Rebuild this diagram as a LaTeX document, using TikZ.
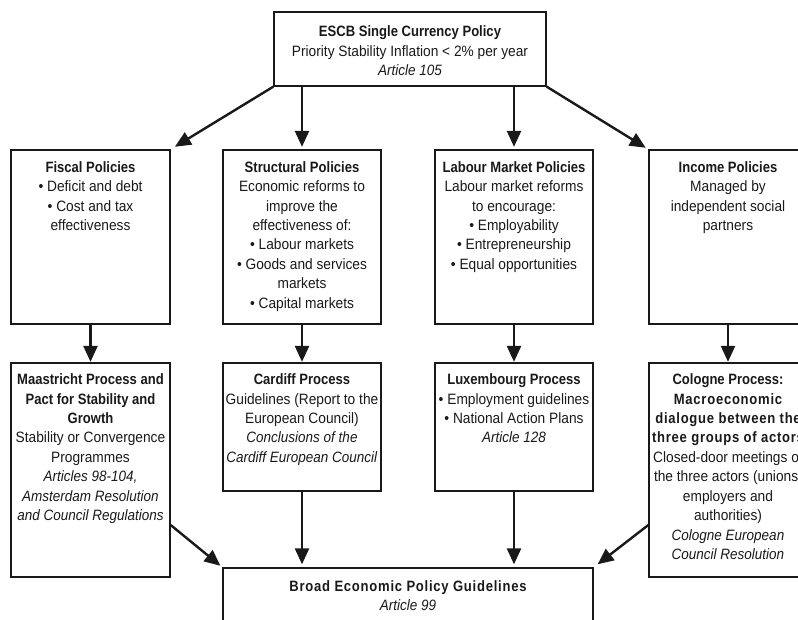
\documentclass[tikz,border=0pt]{standalone}
\usepackage{fontspec}
\setmainfont{Liberation Sans}[FakeStretch=0.915, BoldFeatures={FakeStretch=0.87}, ItalicFeatures={FakeStretch=0.9}]
\usetikzlibrary{arrows.meta,calc}
\newcommand{\trk}{\addfontfeature{LetterSpace=5}}
\begin{document}
\begin{tikzpicture}[x=1pt,y=-1pt,
  box/.style={draw=black!90, line width=1.3pt, inner sep=0pt, rectangle, minimum width=158pt},
  txt/.style={anchor=north, align=center, inner sep=0pt, font=\fontsize{15}{19.45}\selectfont, text=black!90},
  arr/.style={line width=2.4pt, draw=black!90, -{Triangle[length=16pt,width=14pt]}}]
\useasboundingbox (0,0) rectangle (798,620);
\clip (0,0) rectangle (798,620);
% boxes
\node[box, minimum width=272pt, minimum height=74pt] (top) at (410,49) {};
\node[box, minimum width=159pt, minimum height=174pt] (fis) at (90.5,237) {};
\node[box, minimum height=174pt] (str) at (302,237) {};
\node[box, minimum height=174pt] (lab) at (514,237) {};
\node[box, minimum height=174pt] (inc) at (728,237) {};
\node[box, minimum width=159pt, minimum height=214pt] (maa) at (90.5,470) {};
\node[box, minimum height=128pt] (car) at (302,427) {};
\node[box, minimum height=128pt] (lux) at (514,427) {};
\node[box, minimum height=214pt] (col) at (728,470) {};
\node[box, minimum width=370pt, minimum height=82pt] (bot) at (408,609) {};
% texts
\node[txt] (ttop) at ($(top.north)+(0,14.5)$) {\textbf{ESCB Single Currency Policy}\\Priority Stability Inflation < 2\% per year\\\textit{Article 105}};
\node[txt] (tfis) at ($(fis.north)+(0,11.7)$) {\textbf{Fiscal Policies}\\• Deficit and debt\\• Cost and tax\\effectiveness};
\node[txt] (tstr) at ($(str.north)+(0,11.7)$) {\textbf{Structural Policies}\\Economic reforms to\\improve the\\effectiveness of:\\• Labour markets\\• Goods and services\\markets\\• Capital markets};
\node[txt] (tlab) at ($(lab.north)+(0,11.7)$) {\textbf{Labour Market Policies}\\Labour market reforms\\to encourage:\\• Employability\\• Entrepreneurship\\• Equal opportunities};
\node[txt] (tinc) at ($(inc.north)+(0,11.7)$) {\textbf{Income Policies}\\Managed by\\independent social\\partners};
\node[txt] (tmaa) at ($(maa.north)+(0,11.2)$) {\textbf{Maastricht Process and}\\\textbf{Pact for Stability and}\\\textbf{Growth}\\Stability or Convergence\\Programmes\\\textit{Articles 98-104,}\\\textit{Amsterdam Resolution}\\\textit{and Council Regulations}};
\node[txt] (tcar) at ($(car.north)+(0,11.2)$) {\textbf{Cardiff Process}\\Guidelines (Report to the\\European Council)\\\textit{Conclusions of the}\\\textit{Cardiff European Council}};
\node[txt] (tlux) at ($(lux.north)+(0,11.2)$) {\textbf{Luxembourg Process}\\• Employment guidelines\\• National Action Plans\\\textit{Article 128}};
\node[txt] (tcol) at ($(col.north)+(0,11.2)$) {\textbf{Cologne Process:}\\{\bfseries\trk Macroeconomic}\\{\bfseries\trk dialogue between the}\\{\bfseries\trk three groups of actors}\\Closed-door meetings of\\the three actors (unions,\\employers and\\authorities)\\\textit{Cologne European}\\\textit{Council Resolution}};
\node[txt] (tbot) at ($(bot.north)+(0,12.9)$) {{\bfseries\trk Broad Economic Policy Guidelines}\\\textit{Article 99}};
% arrows
\draw[arr, shorten >=5pt] (top.south west) -- (fis.north east);
\draw[arr, shorten >=2.5pt] (top.south -| str.north) -- (str.north);
\draw[arr, shorten >=2.5pt] (top.south -| lab.north) -- (lab.north);
\draw[arr, shorten >=3pt] (top.south east) -- (inc.north west);
\draw[arr, shorten >=0.5pt] (fis.south) -- (maa.north);
\draw[arr, shorten >=0.5pt] (str.south) -- (car.north);
\draw[arr, shorten >=0.5pt] (lab.south) -- (lux.north);
\draw[arr, shorten >=0.5pt] (inc.south) -- (col.north);
\draw[arr, shorten >=3pt] (car.south) -- (car.south |- bot.north);
\draw[arr, shorten >=3pt] (lux.south) -- (lux.south |- bot.north);
\coordinate (mout) at ($(maa.east)+(0,55)$);
\coordinate (cout) at ($(col.west)+(0,55)$);
\draw[arr, shorten >=2.5pt] (mout) -- (bot.north west);
\draw[arr, shorten >=5pt] (cout) -- (bot.north east);
\end{tikzpicture}
\end{document}
